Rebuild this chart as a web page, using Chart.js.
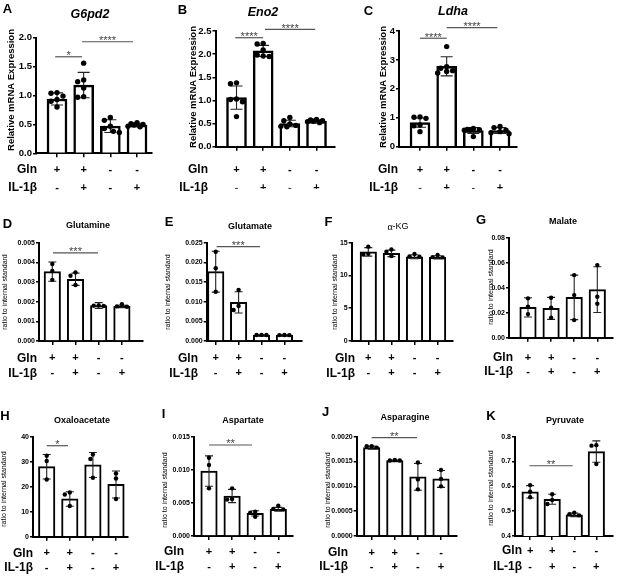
<!DOCTYPE html>
<html>
<head>
<meta charset="utf-8">
<script src="https://cdn.jsdelivr.net/npm/chart.js@4.4.1/dist/chart.umd.min.js"></script>
<style>
  body { margin: 0; background: #fff; }
  #fig { position: relative; width: 617px; height: 576px; overflow: hidden; background: #fff; }
  #fig canvas { position: absolute; left: 0; top: 0; }
</style>
</head>
<body>
<div id="fig"></div>
<script>
// treatment rows under every panel
const glnSigns = ['+', '+', '-', '-'];
const il1bSigns = ['-', '+', '-', '+'];

// A - G6pd2 (n = 6)
const g6pd2Ticks = [0, 0.5, 1.0, 1.5, 2.0];
const g6pd2Mean = [0.94, 1.18, 0.47, 0.49];
const g6pd2Sd = [0.105, 0.22, 0.11, 0.03];
const g6pd2Pts = [[1.05, 1.04, 0.99, 0.93, 0.90, 0.80], [1.56, 1.27, 1.24, 1.13, 0.98, 0.97], [0.62, 0.57, 0.47, 0.43, 0.38, 0.36], [0.53, 0.51, 0.50, 0.49, 0.47, 0.46]];
const g6pd2Sig = [[0.93, 1.94, 1.67, '*'], [1.94, 3.85, 1.93, '****']];

// B - Eno2
const eno2Ticks = [0, 0.5, 1.0, 1.5, 2.0, 2.5];
const eno2Mean = [1.06, 2.07, 0.50, 0.55];
const eno2Sd = [0.25, 0.12, 0.07, 0.03];
const eno2Pts = [[1.38, 1.36, 1.03, 1.02, 0.97, 0.65], [2.23, 2.22, 2.09, 1.98, 1.96, 1.95], [0.63, 0.56, 0.49, 0.46, 0.44, 0.43], [0.59, 0.58, 0.56, 0.55, 0.54, 0.52]];
const eno2Sig = [[0.95, 2.0, 2.355, '****'], [2.07, 3.95, 2.537, '****']];

// C - Ldha
const ldhaTicks = [0, 1, 2, 3, 4];
const ldhaMean = [0.83, 2.78, 0.56, 0.56];
const ldhaSd = [0.16, 0.33, 0.1, 0.1];
const ldhaPts = [[1.03, 1.02, 0.98, 0.75, 0.72, 0.52], [3.46, 2.77, 2.71, 2.63, 2.60, 2.55], [0.63, 0.60, 0.59, 0.58, 0.57, 0.35], [0.70, 0.66, 0.57, 0.52, 0.48, 0.45]];
const ldhaSig = [[1.0, 2.0, 3.75, '****'], [2.0, 3.9, 4.12, '****']];

// D - Glutamine (n = 3)
const glutamineTicks = [0, 0.001, 0.002, 0.003, 0.004, 0.005];
const glutamineMean = [0.00353, 0.00314, 0.00180, 0.00176];
const glutamineSd = [0.00049, 0.00031, 0.00015, 0.00006];
const glutaminePts = [[0.00392, 0.00356, 0.00311], [0.00349, 0.00332, 0.00285], [0.00181, 0.00180, 0.00178], [0.00187, 0.00176, 0.00174]];
const glutamineSig = [[1.03, 2.97, 0.00448, '***']];

// E - Glutamate
const glutamateTicks = [0, 0.005, 0.010, 0.015, 0.020, 0.025];
const glutamateMean = [0.01763, 0.00983, 0.00153, 0.00150];
const glutamateSd = [0.0052, 0.0027, 0.00005, 0.00005];
const glutamatePts = [[0.0227, 0.0185, 0.01254], [0.01297, 0.0089, 0.0079], [0.00155, 0.00153, 0.00152], [0.00151, 0.00150, 0.00149]];
const glutamateSig = [[1.04, 2.93, 0.02398, '***']];

// F - alpha-KG
const akgTicks = [0, 5, 10, 15];
const akgMean = [13.6, 13.37, 12.86, 12.76];
const akgSd = [0.65, 0.5, 0.3, 0.25];
const akgPts = [[14.4, 13.3, 13.2], [13.98, 13.63, 12.96], [13.27, 12.9, 12.86], [13.12, 12.8, 12.76]];
const akgSig = [];

// G - Malate
const malateTicks = [0, 0.02, 0.04, 0.06, 0.08];
const malateMean = [0.0243, 0.0235, 0.0323, 0.0385];
const malateSd = [0.0077, 0.0088, 0.0178, 0.0183];
const malatePts = [[0.0315, 0.0248, 0.0189], [0.032, 0.024, 0.016], [0.0501, 0.0341, 0.0141], [0.0581, 0.0328, 0.0272]];
const malateSig = [];

// H - Oxaloacetate
const oaaTicks = [0, 10, 20, 30, 40];
const oaaMean = [28.0, 15.1, 28.7, 20.9];
const oaaSd = [4.9, 2.9, 5.0, 5.4];
const oaaPts = [[32.4, 30.3, 22.9], [17.7, 16.9, 12.3], [32.9, 31.1, 23.6], [25.3, 23.3, 15.1]];
const oaaSig = [[1.0, 1.92, 36.4, '*']];

// I - Aspartate
const aspartateTicks = [0, 0.005, 0.010, 0.015];
const aspartateMean = [0.00981, 0.00604, 0.00342, 0.00403];
const aspartateSd = [0.0023, 0.0010, 0.0004, 0.0003];
const aspartatePts = [[0.01183, 0.01072, 0.0072], [0.0072, 0.0056, 0.0055], [0.00367, 0.00352, 0.00290], [0.00458, 0.00410, 0.00400]];
const aspartateSig = [[1.0, 2.86, 0.01375, '**']];

// J - Asparagine
const asparagineTicks = [0, 0.0005, 0.0010, 0.0015, 0.0020];
const asparagineMean = [0.00178, 0.00152, 0.00119, 0.00115];
const asparagineSd = [0.00003, 0.00001, 0.00027, 0.00017];
const asparaginePts = [[0.00181, 0.00181, 0.00178], [0.00153, 0.00152, 0.00152], [0.00148, 0.00114, 0.00094], [0.00133, 0.00115, 0.00100]];
const asparagineSig = [[1.0, 2.96, 0.00198, '**']];

// K - Pyruvate
const pyruvateTicks = [0.4, 0.5, 0.6, 0.7, 0.8];
const pyruvateMean = [0.578, 0.548, 0.485, 0.740];
const pyruvateSd = [0.025, 0.020, 0.007, 0.043];
const pyruvatePts = [[0.605, 0.578, 0.556], [0.568, 0.545, 0.529], [0.494, 0.488, 0.483], [0.766, 0.764, 0.690]];
const pyruvateSig = [[0.97, 2.93, 0.683, '**']];

const FONT = '"Liberation Sans", Arial, Helvetica, sans-serif';
const W = 617, H = 576;
const mrna = 'Relative mRNA Expression';
const ratio = 'ratio to internal standard';

// layout of each panel (pixels on the page)
const panels = [
  { letter: 'A', title: 'G6pd2', big: true, mean: g6pd2Mean, sd: g6pd2Sd, pts: g6pd2Pts, yTicks: g6pd2Ticks, dec: 1, sig: g6pd2Sig, yTitle: mrna,
    axisX: 36, axisEnd: 152, tick1: 57, sp: 26.67, top: 37.7, bottom: 153.3, letterAt: [7.5, 9], titleAt: [90, 15], yTitleAt: [11, 90], rowY: [170, 188], labelRight: 37 },
  { letter: 'B', title: 'Eno2', big: true, mean: eno2Mean, sd: eno2Sd, pts: eno2Pts, yTicks: eno2Ticks, dec: 1, sig: eno2Sig, yTitle: mrna,
    axisX: 215.5, axisEnd: 335, tick1: 236.5, sp: 26.67, top: 31, bottom: 146.7, letterAt: [182.5, 10], titleAt: [263, 13], yTitleAt: [193.5, 87], rowY: [170, 188], labelRight: 208 },
  { letter: 'C', title: 'Ldha', big: true, mean: ldhaMean, sd: ldhaSd, pts: ldhaPts, yTicks: ldhaTicks, dec: 0, sig: ldhaSig, yTitle: mrna,
    axisX: 399, axisEnd: 517, tick1: 420, sp: 26.67, top: 31, bottom: 146.7, letterAt: [368.5, 11.5], titleAt: [453, 12], yTitleAt: [383, 87], rowY: [170, 188], labelRight: 398 },
  { letter: 'D', title: 'Glutamine', mean: glutamineMean, sd: glutamineSd, pts: glutaminePts, yTicks: glutamineTicks, dec: 3, sig: glutamineSig, yTitle: ratio,
    axisX: 39, axisEnd: 143, tick1: 52.3, sp: 23.2, top: 242.7, bottom: 341, letterAt: [7.5, 224], titleAt: [88, 226], yTitleAt: [5.5, 292], rowY: [358.3, 373.3], labelRight: 37 },
  { letter: 'E', title: 'Glutamate', mean: glutamateMean, sd: glutamateSd, pts: glutamatePts, yTicks: glutamateTicks, dec: 3, sig: glutamateSig, yTitle: ratio,
    axisX: 206.7, axisEnd: 301.7, tick1: 215.7, sp: 22.9, top: 242.7, bottom: 341, letterAt: [169, 222.5], titleAt: [250, 226.5], yTitleAt: [168.5, 292], rowY: [358.3, 373.3], labelRight: 198 },
  { letter: 'F', title: 'α-KG', mean: akgMean, sd: akgSd, pts: akgPts, yTicks: akgTicks, dec: 0, sig: akgSig, yTitle: ratio,
    axisX: 351.7, axisEnd: 453, tick1: 368.3, sp: 23.1, top: 242.7, bottom: 341, letterAt: [328.5, 222.5], titleAt: [398, 227], yTitleAt: [335, 292], rowY: [358.3, 373.3], labelRight: 355 },
  { letter: 'G', title: 'Malate', mean: malateMean, sd: malateSd, pts: malatePts, yTicks: malateTicks, dec: 2, sig: malateSig, yTitle: ratio,
    axisX: 509, axisEnd: 613, tick1: 528, sp: 23.1, top: 237.7, bottom: 337.7, letterAt: [481, 220], titleAt: [563, 222], yTitleAt: [491.5, 287], rowY: [357.7, 371.7], labelRight: 513 },
  { letter: 'H', title: 'Oxaloacetate', mean: oaaMean, sd: oaaSd, pts: oaaPts, yTicks: oaaTicks, dec: 0, sig: oaaSig, yTitle: ratio,
    axisX: 33, axisEnd: 128, tick1: 46.7, sp: 23.1, top: 436.7, bottom: 536.7, letterAt: [5, 416], titleAt: [82, 421], yTitleAt: [4, 489], rowY: [553.3, 567.7], labelRight: 33 },
  { letter: 'I', title: 'Aspartate', mean: aspartateMean, sd: aspartateSd, pts: aspartatePts, yTicks: aspartateTicks, dec: 3, sig: aspartateSig, yTitle: ratio,
    axisX: 194, axisEnd: 293, tick1: 209, sp: 23.1, top: 436.7, bottom: 536, letterAt: [163.5, 414], titleAt: [243, 421], yTitleAt: [165.5, 490], rowY: [551.7, 566.7], labelRight: 184 },
  { letter: 'J', title: 'Asparagine', mean: asparagineMean, sd: asparagineSd, pts: asparaginePts, yTicks: asparagineTicks, dec: 4, sig: asparagineSig, yTitle: ratio,
    axisX: 356.7, axisEnd: 456.7, tick1: 371.7, sp: 23.1, top: 436.7, bottom: 536, letterAt: [325.5, 412.5], titleAt: [405, 418], yTitleAt: [328, 490], rowY: [552.7, 566.7], labelRight: 348 },
  { letter: 'K', title: 'Pyruvate', mean: pyruvateMean, sd: pyruvateSd, pts: pyruvatePts, yTicks: pyruvateTicks, dec: 1, sig: pyruvateSig, yTitle: ratio,
    axisX: 515, axisEnd: 616.7, tick1: 530.7, sp: 22.9, top: 436.7, bottom: 536, letterAt: [491, 416], titleAt: [565, 421], yTitleAt: [491, 488], rowY: [551, 566.7], labelRight: 522 }
];

// place dots sideways like a scatter dot plot: centre first, then half steps out
function spread(vals, pxPerY, pxPerX, d) {
  const order = vals.map((v, i) => i).sort((a, b) => vals[b] - vals[a]);
  const steps = [0, -0.5, 0.5, -1, 1, -1.5, 1.5];
  const placed = [];
  const off = vals.map(() => 0);
  order.forEach(k => {
    const y = vals[k] * pxPerY;
    let best = null, bestGap = -1;
    for (const s of steps) {
      const x = s * d;
      const gap = Math.min(Infinity, ...placed.map(q => Math.hypot(q.x - x, q.y - y)));
      if (gap >= d) { best = x; break; }
      if (gap > bestGap) { bestGap = gap; best = x; }
    }
    placed.push({ x: best, y });
    off[k] = best / pxPerX;
  });
  return off;
}

function decor(p) {
  const st = p.big
    ? { cap: 6, yt: 'bold 9.5px ' + FONT, title: 'italic bold 12.5px ' + FONT }
    : { cap: 4, yt: '7px ' + FONT, title: 'bold 9px ' + FONT };
  return {
    id: 'decor' + p.letter,
    afterDatasetDraw(chart, args) {
      if (args.index !== 0) return;
      const xs = chart.scales.x, ys = chart.scales.y, ctx = chart.ctx;
      ctx.save();
      ctx.strokeStyle = '#222';
      ctx.lineWidth = 1.1;
      p.mean.forEach((m, i) => {
        const x = xs.getPixelForValue(i + 1);
        const y1 = ys.getPixelForValue(m + p.sd[i]);
        const y2 = ys.getPixelForValue(m - p.sd[i]);
        ctx.beginPath();
        ctx.moveTo(x, y1); ctx.lineTo(x, y2);
        ctx.moveTo(x - st.cap, y1); ctx.lineTo(x + st.cap, y1);
        ctx.moveTo(x - st.cap, y2); ctx.lineTo(x + st.cap, y2);
        ctx.stroke();
      });
      ctx.restore();
    },
    afterDraw(chart) {
      const xs = chart.scales.x, ys = chart.scales.y, ctx = chart.ctx;
      ctx.save();
      ctx.fillStyle = '#000';
      ctx.textBaseline = 'middle';
      // panel letter
      ctx.textAlign = 'center';
      ctx.font = 'bold 13px ' + FONT;
      ctx.fillText(p.letter, p.letterAt[0], p.letterAt[1]);
      // title
      if (p.title === 'α-KG') {
        ctx.textAlign = 'left';
        const f1 = '10px "Liberation Serif", "Times New Roman", serif';
        const f2 = '9px ' + FONT;
        ctx.font = f1; const w1 = ctx.measureText('α').width;
        ctx.font = f2; const w2 = ctx.measureText('-KG').width;
        const x0 = p.titleAt[0] - (w1 + w2) / 2;
        ctx.font = f1; ctx.fillText('α', x0, p.titleAt[1]);
        ctx.font = f2; ctx.fillText('-KG', x0 + w1, p.titleAt[1]);
      } else {
        ctx.font = st.title;
        ctx.fillText(p.title, p.titleAt[0], p.titleAt[1]);
      }
      // y axis title
      ctx.save();
      ctx.translate(p.yTitleAt[0], p.yTitleAt[1]);
      ctx.rotate(-Math.PI / 2);
      ctx.textAlign = 'center';
      ctx.font = st.yt;
      ctx.fillText(p.yTitle, 0, 0);
      ctx.restore();
      // row labels
      ctx.textAlign = 'right';
      ctx.font = 'bold 12px ' + FONT;
      ctx.fillText('Gln', p.labelRight, p.rowY[0]);
      ctx.fillText('IL-1β', p.labelRight, p.rowY[1]);
      // significance bars
      p.sig.forEach(([a, b, v, stars]) => {
        const x1 = xs.getPixelForValue(a), x2 = xs.getPixelForValue(b);
        const y = ys.getPixelForValue(v);
        ctx.strokeStyle = '#555';
        ctx.lineWidth = 1.2;
        ctx.beginPath();
        ctx.moveTo(x1, y); ctx.lineTo(x2, y);
        ctx.stroke();
        ctx.fillStyle = '#444';
        ctx.textAlign = 'center';
        ctx.textBaseline = 'alphabetic';
        ctx.font = '11px ' + FONT;
        ctx.fillText(stars, (x1 + x2) / 2, y + 2.5);
      });
      ctx.restore();
    }
  };
}

const fig = document.getElementById('fig');

panels.forEach(p => {
  const canvas = document.createElement('canvas');
  canvas.width = W;
  canvas.height = H;
  fig.appendChild(canvas);

  const yMin = p.yTicks[0], yMax = p.yTicks[p.yTicks.length - 1];
  const xMin = 1 - (p.tick1 - p.axisX) / p.sp;
  const xMax = xMin + (p.axisEnd - p.axisX) / p.sp;
  const lineH = p.rowY[1] - p.rowY[0];
  const xTickLen = 4;
  const xPad = p.rowY[0] - p.bottom - xTickLen - lineH / 2;
  const yW = Math.min(45, p.axisX);
  const xH = Math.min(42, H - p.bottom);
  const r = p.big ? 2.7 : 2.2;

  const dots = [];
  const pxPerY = (p.bottom - p.top) / (yMax - yMin);
  p.pts.forEach((vals, i) => {
    const off = spread(vals, pxPerY, p.sp, 2 * r + 0.6);
    vals.forEach((v, j) => dots.push({ x: i + 1 + off[j], y: v }));
  });

  new Chart(canvas, {
    type: 'bar',
    data: {
      datasets: [
        {
          type: 'bar',
          data: p.mean.map((m, i) => ({ x: i + 1, y: m })),
          backgroundColor: '#fff',
          borderColor: '#000',
          borderWidth: p.big ? 2.5 : 2,
          barThickness: p.big ? 20 : 16.5,
          order: 2
        },
        {
          type: 'scatter',
          data: dots,
          pointRadius: r,
          pointBackgroundColor: '#000',
          pointBorderWidth: 0,
          clip: false,
          order: 1
        }
      ]
    },
    options: {
      responsive: false,
      animation: false,
      devicePixelRatio: 1,
      events: [],
      layout: { padding: { left: p.axisX - yW, right: W - p.axisEnd, top: p.top, bottom: H - p.bottom - xH } },
      plugins: { legend: { display: false }, tooltip: { enabled: false } },
      scales: {
        x: {
          type: 'linear',
          min: xMin,
          max: xMax,
          offset: false,
          afterBuildTicks: s => { s.ticks = glnSigns.map((_, i) => ({ value: i + 1 })); },
          afterFit: s => { s.height = xH; },
          ticks: {
            autoSkip: false,
            maxRotation: 0,
            padding: xPad,
            color: '#000',
            font: { family: FONT, size: 11, weight: 'bold', lineHeight: lineH + 'px' },
            callback: (v, i) => [glnSigns[i], il1bSigns[i]]
          },
          grid: { offset: false, drawOnChartArea: false, tickLength: xTickLen, color: '#000', lineWidth: 1.5 },
          border: { color: '#000', width: 2 }
        },
        y: {
          min: yMin,
          max: yMax,
          afterBuildTicks: s => { s.ticks = p.yTicks.map(v => ({ value: v })); },
          afterFit: s => { s.width = yW; },
          ticks: {
            padding: 1,
            color: '#000',
            font: { family: FONT, size: p.big ? 9.5 : 7, weight: 'bold' },
            callback: v => v.toFixed(p.dec)
          },
          grid: { drawOnChartArea: false, tickLength: 3, color: '#000', lineWidth: 1.5 },
          border: { color: '#000', width: 2 }
        }
      }
    },
    plugins: [decor(p)]
  });
});
</script>
</body>
</html>
